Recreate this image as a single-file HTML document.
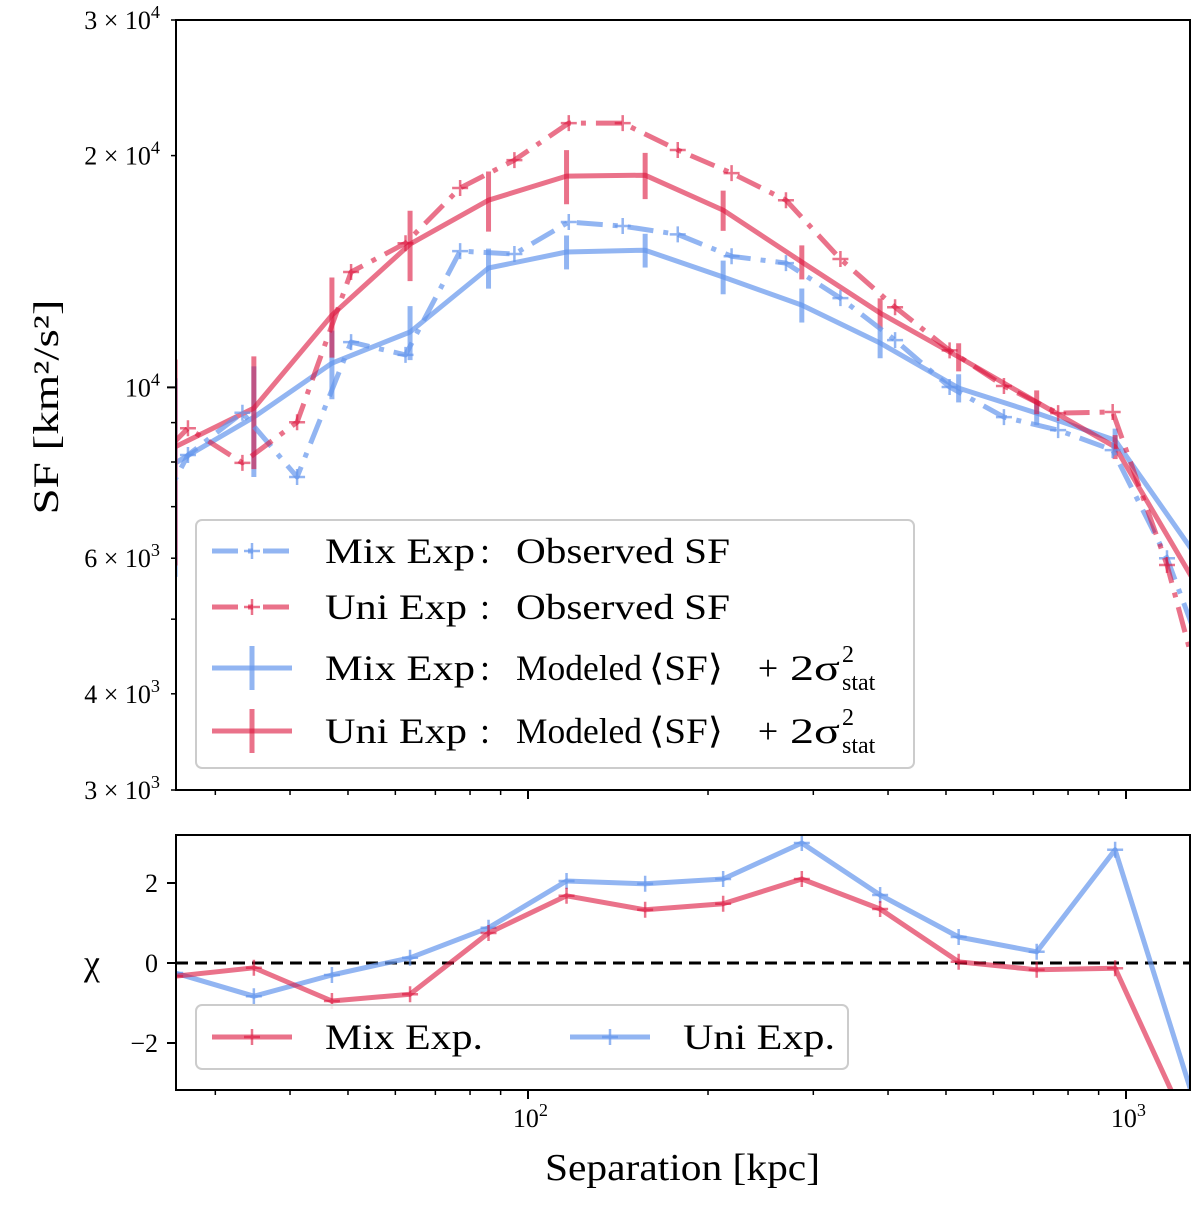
<!DOCTYPE html>
<html><head><meta charset="utf-8">
<style>
body{margin:0;background:#fff;}
svg text{font-family:"Liberation Serif","DejaVu Serif",serif;fill:#000;}
</style></head>
<body>
<svg id="chart" width="1200" height="1202" xmlns="http://www.w3.org/2000/svg">
<defs>
<clipPath id="clipTop"><rect x="176" y="20" width="1014" height="770"/></clipPath>
<clipPath id="clipBot"><rect x="176" y="835" width="1014" height="255"/></clipPath>
</defs>
<g id="top-series" clip-path="url(#clipTop)"></g>
<g id="bot-series" clip-path="url(#clipBot)"></g>
<g id="axes"></g>
</svg>
<script>
// ---- data ----
const obsSep = [21.9, 27.0, 33.3, 41.1, 50.6, 62.4, 77.0, 94.9, 117, 144, 178, 219, 270, 333, 411, 507, 625, 770, 950, 1171, 1444];
const mixObsSF = [6000, 8170, 9270, 7650, 11450, 11020, 15030, 14900, 16400, 16200, 15800, 14800, 14500, 13060, 11520, 10010, 9150, 8800, 8290, 6000, 3880];
const uniObsSF = [7500, 8850, 7980, 9010, 14120, 15390, 18150, 19730, 22040, 22040, 20340, 18980, 17500, 14680, 12710, 11170, 10040, 9260, 9290, 5880, 3200];
const modSep = [25.7, 34.8, 47.0, 63.5, 85.9, 116, 157, 212, 287, 388, 525, 709, 959, 1297];
const mixModSF = [7975, 9150, 10750, 11800, 14290, 14990, 15070, 13910, 12790, 11420, 9980, 9260, 8540, 6110];
const mixModErr = [2300, 1500, 1100, 950, 855, 760, 760, 700, 650, 510, 420, 330, 300, 180];
const uniModSF = [8370, 9400, 12410, 15350, 17500, 18810, 18860, 16990, 14550, 12490, 10950, 9570, 8370, 5620];
const uniModErr = [2500, 1570, 1480, 1610, 1570, 1520, 1300, 1020, 740, 560, 460, 340, 300, 170];
const chiMix = [-0.33, -0.12, -0.95, -0.78, 0.75, 1.68, 1.33, 1.48, 2.1, 1.35, 0.03, -0.17, -0.13, -4.4];
const chiUni = [-0.25, -0.83, -0.3, 0.13, 0.88, 2.05, 1.98, 2.1, 3.0, 1.7, 0.65, 0.28, 2.83, -3.4];
const yTickVals = [3000, 4000, 5000, 6000, 7000, 8000, 9000, 10000, 20000, 30000];
const yTickMant = ["3 × ", "4 × ", "", "6 × ", "", "", "", "", "2 × ", "3 × "];
const yTickExp = ["3", "3", "", "3", "", "", "", "4", "4", "4"];
const chiTicks = [-2, 0, 2];
const chiTickLabels = ["−2", "0", "2"];

// ---- scales ----
const X0 = 176, X1 = 1190;
const sx = v => 528 + (Math.log10(v) - 2) * 598;
const sy = v => 20 + (Math.log10(30000) - Math.log10(v)) * 770;
const cy = v => 963 - v * 40;
const NS = "http://www.w3.org/2000/svg";
const BLUE = "rgba(100,149,237,0.7)", RED = "rgba(220,20,60,0.6)";
function mk(tag, attrs, parent) {
  const e = document.createElementNS(NS, tag);
  for (const k in attrs) e.setAttribute(k, attrs[k]);
  parent.appendChild(e);
  return e;
}
const topG = document.getElementById('top-series');
const botG = document.getElementById('bot-series');
const axes = document.getElementById('axes');

function poly(xs, ys, fx, fy, color, dash, parent, name) {
  const pts = xs.map((x, i) => fx(x).toFixed(1) + "," + fy(ys[i]).toFixed(1)).join(" ");
  const p = mk('polyline', {points: pts, fill: "none", stroke: color, "stroke-width": 5, "stroke-dasharray": dash || "none", "stroke-linejoin": "round"}, parent);
  
  
}
function plus(x, y, color, parent, name) {
  const g = mk('path', {d: `M${x-8},${y}h16M${x},${y-8}v16`, stroke: color, "stroke-width": 2.5, fill: "none"}, parent);
  
  
}
function errbar(x, v, e, color, parent, name) {
  const l = mk('line', {x1: sx(x), x2: sx(x), y1: sy(v + e), y2: sy(Math.max(v - e, 100)), stroke: color, "stroke-width": 5}, parent);
  
  
}
const DD = "26 10 5 10";
poly(modSep, mixModSF, sx, sy, BLUE, null, topG, 'mix-modeled-line');
modSep.forEach((x, i) => errbar(x, mixModSF[i], mixModErr[i], BLUE, topG, 'mix-modeled-errorbar'));
poly(modSep, uniModSF, sx, sy, RED, null, topG, 'uni-modeled-line');
modSep.forEach((x, i) => errbar(x, uniModSF[i], uniModErr[i], RED, topG, 'uni-modeled-errorbar'));
poly(obsSep, mixObsSF, sx, sy, BLUE, DD, topG, 'mix-observed-line');
obsSep.forEach((x, i) => plus(sx(x), sy(mixObsSF[i]), BLUE, topG, 'mix-observed-point'));
poly(obsSep, uniObsSF, sx, sy, RED, DD, topG, 'uni-observed-line');
obsSep.forEach((x, i) => plus(sx(x), sy(uniObsSF[i]), RED, topG, 'uni-observed-point'));
let zl = mk('line', {x1: X0, x2: X1, y1: cy(0), y2: cy(0), stroke: "#000", "stroke-width": 3, "stroke-dasharray": "12 7"}, botG);


poly(modSep, chiUni, sx, cy, BLUE, null, botG, 'chi-uni-line');
modSep.forEach((x, i) => plus(sx(x), cy(chiUni[i]), BLUE, botG, 'chi-uni-point'));
poly(modSep, chiMix, sx, cy, RED, null, botG, 'chi-mix-line');
modSep.forEach((x, i) => plus(sx(x), cy(chiMix[i]), RED, botG, 'chi-mix-point'));

function txt(x, y, s, size, anchor, name, extra) {
  const t = mk('text', Object.assign({x: x, y: y, "font-size": size, "text-anchor": anchor || "start"}, extra || {}), axes);
  t.textContent = s;
  
  
  return t;
}
function piece(x, y, s, size, len, name) {
  const t = mk('text', {x: x, y: y, "font-size": size, textLength: len, lengthAdjust: "spacingAndGlyphs"}, axes);
  t.textContent = s;
  
  
  return t;
}
function powLabel(xr, y, mant, exp, size, name) {
  // right-aligned "mant 10^exp"
  const t = mk('text', {x: xr, y: y, "font-size": size, "text-anchor": "end"}, axes);
  
  
  const a = mk('tspan', {}, t); a.textContent = mant + "10";
  const b = mk('tspan', {dy: -11, "font-size": size * 0.7}, t); b.textContent = exp;
}
let f1 = mk('rect', {x: 176, y: 20, width: 1014, height: 770, fill: "none", stroke: "#000", "stroke-width": 2}, axes);


let f2 = mk('rect', {x: 176, y: 835, width: 1014, height: 255, fill: "none", stroke: "#000", "stroke-width": 2}, axes);


yTickVals.forEach((v, i) => {
  const y = sy(v);
  const major = v === 10000;
  mk('line', {x1: 176, x2: 176 - (major ? 9 : 5), y1: y, y2: y, stroke: "#000", "stroke-width": major ? 2 : 1.5}, axes);
  if (yTickExp[i]) powLabel(160, y + 9, yTickMant[i], yTickExp[i], 26, 'y-tick-label');
});
chiTicks.forEach((v, i) => {
  mk('line', {x1: 176, x2: 167, y1: cy(v), y2: cy(v), stroke: "#000", "stroke-width": 2}, axes);
  txt(158, cy(v) + 9, chiTickLabels[i], 26, "end", 'chi-tick-label');
});
const xMinor = [30, 40, 50, 60, 70, 80, 90, 200, 300, 400, 500, 600, 700, 800, 900];
[790, 1090].forEach(yb => {
  xMinor.forEach(v => mk('line', {x1: sx(v), x2: sx(v), y1: yb, y2: yb + 5, stroke: "#000", "stroke-width": 1.5}, axes));
  [100, 1000].forEach(v => mk('line', {x1: sx(v), x2: sx(v), y1: yb, y2: yb + 9, stroke: "#000", "stroke-width": 2}, axes));
});
powLabel(sx(100) + 20, 1127, "", "2", 26, 'x-tick-label');
powLabel(sx(1000) + 20, 1127, "", "3", 26, 'x-tick-label');
piece(545, 1180, "Separation [kpc]", 38, 275, 'x-axis-title');
const yt = mk('text', {x: 0, y: 0, "font-size": 36, "text-anchor": "middle", transform: "translate(58 407) rotate(-90)", textLength: 215, lengthAdjust: "spacingAndGlyphs"}, axes);
yt.textContent = "SF [km²/s²]";


txt(92, 975, "χ", 36, "middle", 'chi-axis-title');

let lg = mk('rect', {x: 196, y: 520, width: 718, height: 248, rx: 6, fill: "rgba(255,255,255,0.85)", stroke: "#ccc", "stroke-width": 2}, axes);


const legRows = [
  [551, BLUE, true, "Mix Exp"],
  [607, RED, true, "Uni Exp"],
  [668, BLUE, false, "Mix Exp"],
  [731, RED, false, "Uni Exp"]
];
legRows.forEach(r => {
  const [y, c, obs, label] = r;
  mk('line', {x1: 212, x2: 292, y1: y, y2: y, stroke: c, "stroke-width": 5, "stroke-dasharray": obs ? "26 10 5 10" : "none"}, axes);
  if (obs) mk('path', {d: `M244,${y}h16M252,${y-8}v16`, stroke: c, "stroke-width": 2.5}, axes);
  else mk('line', {x1: 252, x2: 252, y1: y - 22, y2: y + 22, stroke: c, "stroke-width": 5}, axes);
  const by = y + 12;
  piece(325, by, label, 36, label === "Mix Exp" ? 150 : 142, 'legend-entry-name');
  txt(485, by, ":", 36, "middle", 'legend-colon');
  if (obs) {
    piece(516, by, "Observed SF", 36, 214, 'legend-entry-desc');
  } else {
    piece(516, by, "Modeled", 36, 126, 'legend-entry-desc');
    piece(649, by, "⟨SF⟩", 36, 74, 'legend-entry-desc');
    txt(768, by, "+", 36, "middle", 'legend-plus');
    piece(790, by, "2σ", 36, 50, 'legend-entry-desc');
    txt(842, y - 6, "2", 24, "start", 'legend-superscript');
    txt(842, y + 22, "stat", 24, "start", 'legend-subscript');
  }
});
let lg2 = mk('rect', {x: 196, y: 1005, width: 652, height: 64, rx: 6, fill: "rgba(255,255,255,0.85)", stroke: "#ccc", "stroke-width": 2}, axes);


[[212, RED, "Mix Exp.", 158], [570, BLUE, "Uni Exp.", 152]].forEach(r => {
  const [x, c, label, len] = r;
  mk('line', {x1: x, x2: x + 80, y1: 1037, y2: 1037, stroke: c, "stroke-width": 5}, axes);
  mk('path', {d: `M${x+32},1037h16M${x+40},1029v16`, stroke: c, "stroke-width": 2.5}, axes);
  piece(x + 113, 1049, label, 36, len, 'chi-legend-entry');
});
</script>
</body></html>
